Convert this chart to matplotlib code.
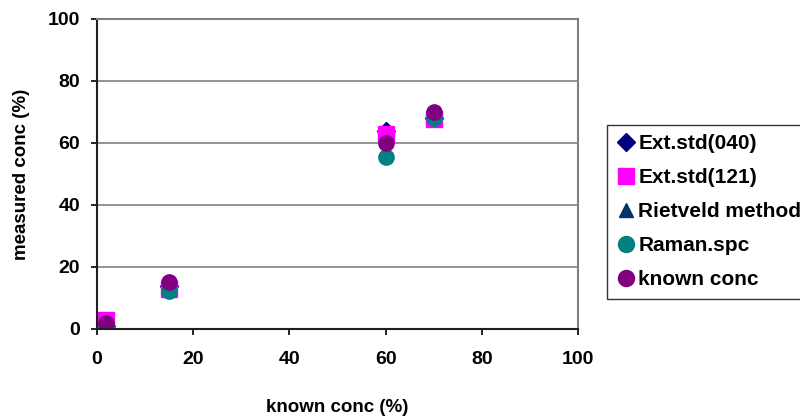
import matplotlib.pyplot as plt

plt.rcParams['font.family'] = ['Liberation Sans', 'DejaVu Sans']
plt.rcParams['font.weight'] = 'bold'

# Data
known = [2, 15, 60, 70]
ext_040 = [1, 14, 63.8, 68]
ext_121 = [3, 13, 62.8, 67.6]
rietveld = [2.5, 13, 62.5, 67.6]
raman = [1, 12.3, 55.3, 68]
known_conc = [2, 15, 60, 70]

fig = plt.figure(figsize=(8, 4.18), dpi=100)
ax = fig.add_axes([0.121, 0.213, 0.602, 0.742])

ms = 11
ax.plot(known, ext_040, 'D', color='#000080', ms=ms * 0.8, ls='none', label='Ext.std(040)', zorder=2)
ax.plot(known, rietveld, '^', color='#003366', ms=ms * 0.85, ls='none', label='Rietveld method', zorder=2.1)
ax.plot(known, ext_121, 's', color='#FF00FF', ms=ms, ls='none', label='Ext.std(121)', zorder=2.2)
ax.plot(known, raman, 'o', color='#008080', ms=ms, ls='none', label='Raman.spc', zorder=2.3)
ax.plot(known, known_conc, 'o', color='#800080', ms=ms, ls='none', label='known conc', zorder=2.4)

ax.set_xlim(0, 100)
ax.set_ylim(0, 100)
ax.set_xticks(range(0, 101, 20))
ax.set_yticks(range(0, 101, 20))
ax.tick_params(direction='out', length=4, width=1.2, labelsize=14, pad=8)
ax.tick_params(axis='x', pad=12)
for lab in ax.get_xticklabels() + ax.get_yticklabels():
    lab.set_fontweight('bold')

ax.grid(axis='y', color='#808080', lw=1.2)
ax.set_axisbelow(True)
for side in ['left', 'bottom']:
    ax.spines[side].set_color('#202020')
    ax.spines[side].set_linewidth(1.5)
for side in ['top', 'right']:
    ax.spines[side].set_color('#808080')
    ax.spines[side].set_linewidth(1.5)

ax.set_xlabel('known conc (%)', fontsize=13.5, fontweight='bold', labelpad=22)
ax.set_ylabel('measured conc (%)', fontsize=13.5, fontweight='bold', labelpad=13)

handles, labels = ax.get_legend_handles_labels()
order = ['Ext.std(040)', 'Ext.std(121)', 'Rietveld method', 'Raman.spc', 'known conc']
hmap = dict(zip(labels, handles))
leg = fig.legend([hmap[k] for k in order], order, loc='upper left',
                 bbox_to_anchor=(0.759, 0.701), frameon=True,
                 fancybox=False, edgecolor='black', prop={'size': 15, 'weight': 'bold'},
                 handletextpad=0.15, borderpad=0.45, labelspacing=0.72, handlelength=0.9,
                 borderaxespad=0, markerscale=1.05)
leg.get_frame().set_linewidth(1.0)

fig.savefig('out.png', dpi=100)
